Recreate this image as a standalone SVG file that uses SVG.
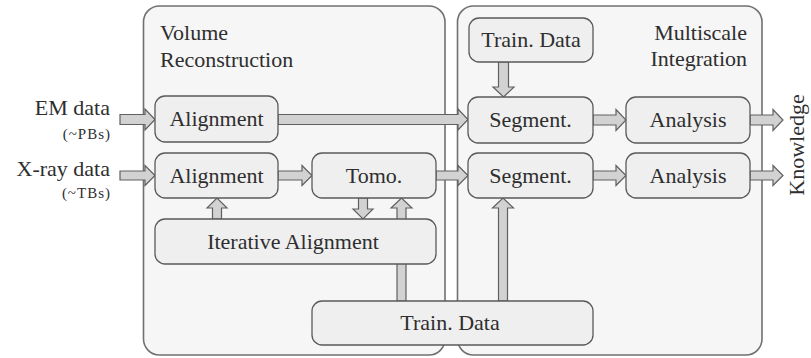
<svg xmlns="http://www.w3.org/2000/svg" width="811" height="358" viewBox="0 0 811 358">
<style>
.panel{fill:#f6f6f6;stroke:#707070;stroke-width:1.6}
.node rect{fill:#efefef;stroke:#5a5a5a;stroke-width:1.3}
.arr{fill:#d2d2d2;stroke:#606060;stroke-width:1.2;stroke-linejoin:miter}
.t{font-family:"Liberation Serif",serif;font-size:22px;text-anchor:middle;fill:#2e2e2e}
.ttl{font-family:"Liberation Serif",serif;font-size:22px;fill:#2e2e2e}
.lbl{font-family:"Liberation Serif",serif;font-size:22px;text-anchor:end;fill:#2e2e2e}
.sm{font-family:"Liberation Serif",serif;font-size:15px;letter-spacing:1px;text-anchor:end;fill:#2e2e2e}
</style>
<rect width="811" height="358" fill="#ffffff"/>
<g id="panel-volume">
<rect class="panel" x="143.5" y="6" width="301.5" height="349" rx="16"/>
<text class="ttl" x="160" y="40">Volume</text>
<text class="ttl" x="160" y="67">Reconstruction</text>
</g>
<g id="panel-multiscale">
<rect class="panel" x="457.5" y="6" width="304.5" height="349" rx="16"/>
<text class="ttl" x="747" y="40" text-anchor="end">Multiscale</text>
<text class="ttl" x="747" y="66" text-anchor="end">Integration</text>
</g>
<g id="connectors">
<path class="arr" d="M120,114.5H145V109L155,119.5L145,130V124.5H120Z"/>
<path class="arr" d="M278,114.5H458V109L468,119.5L458,130V124.5H278Z"/>
<path class="arr" d="M120,171H145V165.5L155,175.5L145,185.5V180H120Z"/>
<path class="arr" d="M278,171H302V165.5L312,175.5L302,185.5V180H278Z"/>
<path class="arr" d="M436,171H458V165.5L468,175.5L458,185.5V180H436Z"/>
<path class="arr" d="M593,115H616V109.5L626,120L616,130.5V125H593Z"/>
<path class="arr" d="M593,171H616V165.5L626,175.5L616,185.5V180H593Z"/>
<path class="arr" d="M750,115H773V109.5L783,120L773,130.5V125H750Z"/>
<path class="arr" d="M750,171H773V165.5L783,175.5L773,185.5V180H750Z"/>
<path class="arr" d="M498.5,62V87H493L503.5,97L514,87H508.5V62Z"/>
<path class="arr" d="M212.5,219V208H207L217,198L227,208H221.5V219Z"/>
<path class="arr" d="M358.5,198V209H353L363,219L373,209H367.5V198Z"/>
<path class="arr" d="M397,301V208H391L401.5,198L412,208H406V301Z"/>
<path class="arr" d="M498.5,301V208H492.5L503,198L513.5,208H507.5V301Z"/>
</g>
<g id="labels">
<text class="lbl" x="110" y="115">EM data</text>
<text class="sm" x="111" y="139">(~PBs)</text>
<text class="lbl" x="110" y="176">X-ray data</text>
<text class="sm" x="111" y="198">(~TBs)</text>
<text class="t" transform="translate(804,145) rotate(-90)">Knowledge</text>
</g>
<g id="train-top" class="node"><rect x="469" y="18" width="124" height="44" rx="10"/><text class="t" x="531" y="47">Train. Data</text></g>
<g id="align-em" class="node"><rect x="155" y="96" width="123" height="46" rx="10"/><text class="t" x="216.5" y="126">Alignment</text></g>
<g id="align-xray" class="node"><rect x="155" y="153" width="123" height="45" rx="10"/><text class="t" x="216.5" y="182.5">Alignment</text></g>
<g id="tomo" class="node"><rect x="312" y="153" width="124" height="45" rx="10"/><text class="t" x="374" y="182.5">Tomo.</text></g>
<g id="iterative" class="node"><rect x="155" y="219" width="281" height="45" rx="10"/><text class="t" x="293" y="248.5">Iterative Alignment</text></g>
<g id="train-bottom" class="node"><rect x="312" y="301" width="281" height="44" rx="10"/><text class="t" x="450" y="330">Train. Data</text></g>
<g id="segment-em" class="node"><rect x="468" y="97" width="125" height="46" rx="10"/><text class="t" x="530.5" y="127">Segment.</text></g>
<g id="segment-xray" class="node"><rect x="468" y="153" width="125" height="45" rx="10"/><text class="t" x="530.5" y="182.5">Segment.</text></g>
<g id="analysis-em" class="node"><rect x="626" y="97" width="124" height="46" rx="10"/><text class="t" x="688" y="127">Analysis</text></g>
<g id="analysis-xray" class="node"><rect x="626" y="153" width="124" height="45" rx="10"/><text class="t" x="688" y="182.5">Analysis</text></g>
</svg>
